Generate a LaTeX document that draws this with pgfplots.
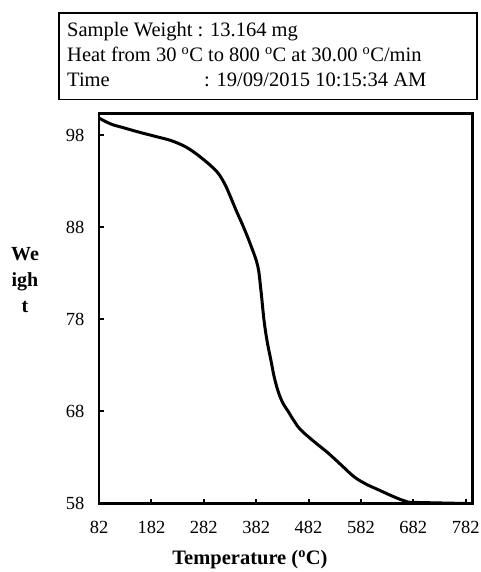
\documentclass[border=0pt]{standalone}
\usepackage{pgfplots}
\pgfplotsset{compat=1.18}
\usepackage{fontspec}
\setmainfont{Liberation Serif}

\begin{document}
\begin{tikzpicture}
\useasboundingbox (0,0) rectangle (480pt,572pt);

% header box
\draw[line width=1.8pt] (59pt,472.5pt) rectangle (477pt,559.3pt);
\begin{scope}[every node/.style={inner sep=0pt, anchor=base west, font=\fontsize{20.5}{24}\selectfont}]
\node at (67pt,535pt) {Sample Weight : 13.164 mg};
\node at (67pt,510pt) {Heat from 30 \textsuperscript{o}C to 800 \textsuperscript{o}C at 30.00 \textsuperscript{o}C/min};
\node at (67pt,485pt) {Time};
\node at (204pt,485pt) {: 19/09/2015 10:15:34 AM};
\end{scope}

\begin{axis}[
  at={(99pt,68.5pt)}, anchor=south west,
  scale only axis, width=373.5pt, height=390pt,
  xmin=82, xmax=795, ymin=58, ymax=100.35,
  xtick={82,182,282,382,482,582,682,782},
  ytick={58,68,78,88,98},
  xtick pos=bottom, ytick pos=left,
  tick align=inside, major tick length=5pt,
  tick style={line width=2pt, black},
  axis line style={line width=2.5pt},
  ticklabel style={font=\fontsize{18.5}{22}\selectfont},
  /pgf/number format/assume math mode=true,
  xticklabel style={yshift=-14pt},
  yticklabel style={xshift=-11pt},
  clip=false,
]
\addplot[black, line width=3pt, smooth, tension=0.6] coordinates {
(82,99.85) (105,99.2) (129,98.8) (160,98.3) (194,97.8) (220,97.4) (245,96.8) (262,96.2) (276,95.6)
(293,94.8) (309,93.9) (322,92.7) (333,91.3) (344,89.8) (358,88.0) (372,86.0) (385,83.8) (391,81.2) (397,77.9)
(403,75.6) (410,73.6) (417,71.6) (425,70.0) (433,68.9) (442,68.1) (454,67.0) (467,66.0) (493,64.7) (519,63.5) (544,62.2) (569,60.9)
(592,60.1) (615,59.5) (638,58.9) (659,58.4) (672,58.15) (700,58.1) (740,58.05) (784,58.0)};
\end{axis}

% axis titles
\node[font=\bfseries\fontsize{20.5}{24}\selectfont] at (250pt,12pt) {Temperature (\textsuperscript{o}C)};
\begin{scope}[every node/.style={inner sep=0pt, anchor=base, font=\bfseries\fontsize{20}{24}\selectfont}]
\node at (25pt,311pt) {We};
\node at (25pt,285pt) {igh};
\node at (25pt,259pt) {t};
\end{scope}
\end{tikzpicture}
\end{document}
